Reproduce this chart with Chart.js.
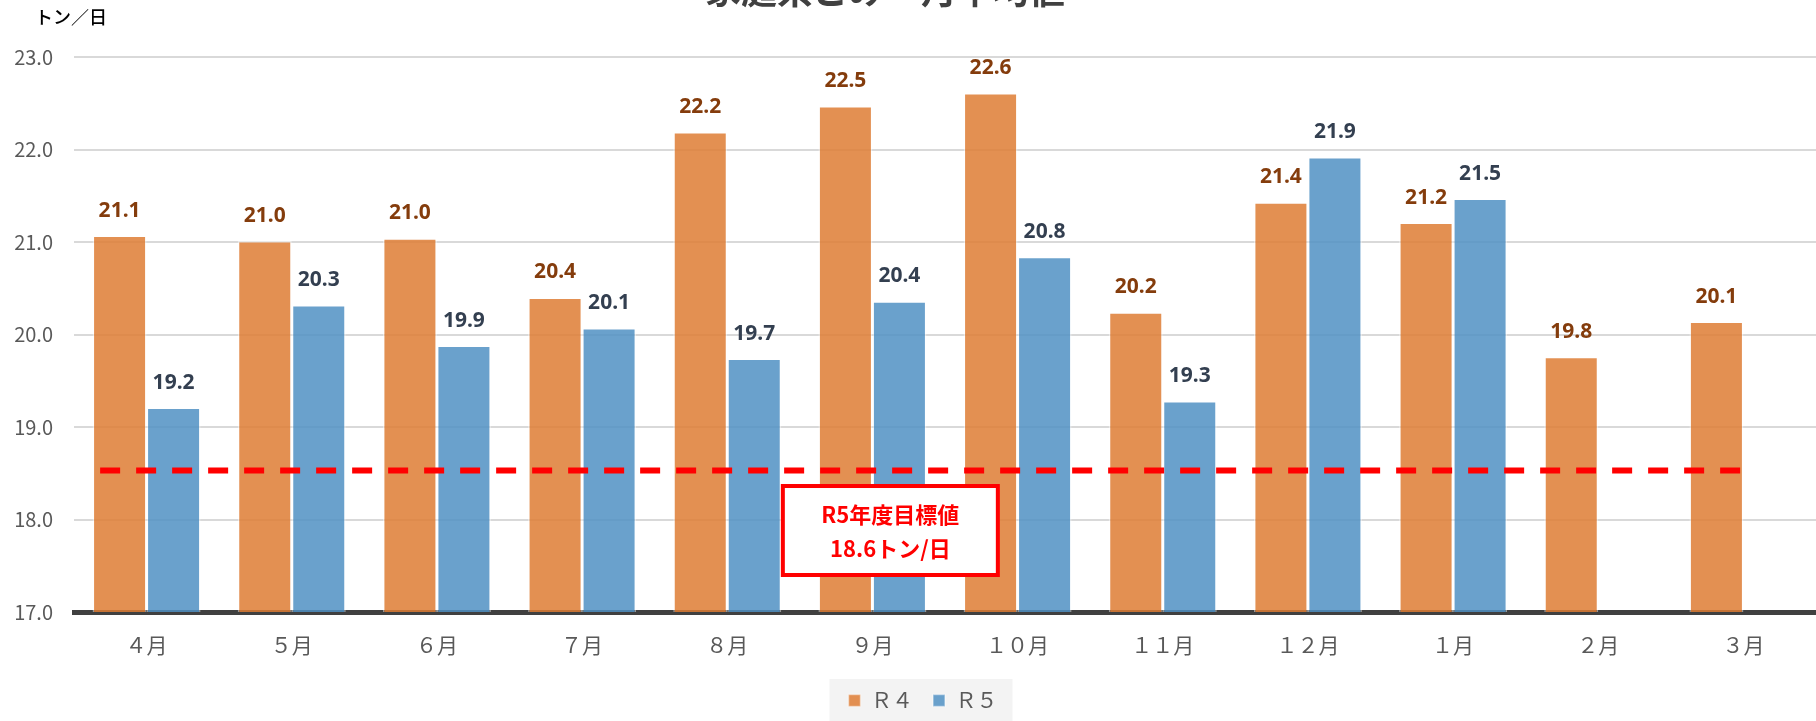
<!DOCTYPE html>
<html lang="ja">
<head>
<meta charset="utf-8">
<title>家庭系ごみ 月平均値</title>
<script src="https://cdn.jsdelivr.net/npm/chart.js@4/dist/chart.umd.min.js"></script>
<style>
  html, body { margin: 0; padding: 0; background: #fff; }
  #wrap { width: 1816px; height: 721px; position: relative; }
</style>
</head>
<body>
<div id="wrap"><canvas id="chart"></canvas></div>
<script>
// 月（年度順）
const months = ['４月', '５月', '６月', '７月', '８月', '９月', '１０月', '１１月', '１２月', '１月', '２月', '３月'];
// R4 実績（トン/日）
const r4Values = [21.07, 21.01, 21.04, 20.40, 22.19, 22.47, 22.61, 20.24, 21.43, 21.21, 19.76, 20.14];
// R5 実績（トン/日）2月・3月は未集計
const r5Values = [19.21, 20.32, 19.88, 20.07, 19.74, 20.36, 20.84, 19.28, 21.92, 21.47, null, null];
// 凡例ラベル
const seriesNames = ['Ｒ４', 'Ｒ５'];
// Y軸の範囲と目盛り
const yMin = 17, yMax = 23, yStep = 1;
// 目標値の破線（描画上の高さと、月インデックスでの始点・終点）
const targetValue = 18.53;
const targetFrom = -0.32, targetTo = 11.05;
const targetText = ['R5年度目標値', '18.6トン/日'];

const FONT = "'Noto Sans CJK JP', 'Noto Sans', sans-serif";
const labelColors = ['#843C0C', '#333F50'];

// 目標値の破線（x軸・y軸のスケールで位置を決める）
const targetLine = {
  id: 'targetLine',
  afterDatasetsDraw(chart) {
    const ctx = chart.ctx;
    const xs = chart.scales.x, ys = chart.scales.y;
    const y = ys.getPixelForValue(targetValue);
    ctx.save();
    ctx.strokeStyle = '#FF0000';
    ctx.lineWidth = 6;
    ctx.setLineDash([20, 16]);
    ctx.beginPath();
    ctx.moveTo(xs.getPixelForValue(targetFrom), y);
    ctx.lineTo(xs.getPixelForValue(targetTo), y);
    ctx.stroke();
    ctx.restore();
  }
};

// 棒の上に値を表示
const valueLabels = {
  id: 'valueLabels',
  afterDatasetsDraw(chart) {
    const ctx = chart.ctx;
    ctx.save();
    ctx.font = `bold 21px 'Noto Sans', sans-serif`;
    ctx.textAlign = 'center';
    ctx.textBaseline = 'middle';
    chart.data.datasets.forEach((ds, di) => {
      const meta = chart.getDatasetMeta(di);
      meta.data.forEach((bar, i) => {
        const v = ds.data[i];
        if (v === null || v === undefined) return;
        ctx.fillStyle = labelColors[di];
        ctx.fillText(v.toFixed(1), bar.x, bar.y - 25);
      });
    });
    ctx.restore();
  }
};

// 目標値の枠付きテキスト
const targetBox = {
  id: 'targetBox',
  afterDatasetsDraw(chart) {
    const ctx = chart.ctx;
    const xs = chart.scales.x, ys = chart.scales.y;
    const left = xs.getPixelForValue(4.383), right = xs.getPixelForValue(5.864);
    const top = ys.getPixelForValue(18.362), bottom = ys.getPixelForValue(17.40);
    ctx.save();
    ctx.fillStyle = '#fff';
    ctx.fillRect(left, top, right - left, bottom - top);
    ctx.strokeStyle = '#FF0000';
    ctx.lineWidth = 4;
    ctx.strokeRect(left, top, right - left, bottom - top);
    ctx.fillStyle = '#FF0000';
    ctx.font = `bold 22px ${FONT}`;
    ctx.textAlign = 'center';
    ctx.textBaseline = 'middle';
    const cx = (left + right) / 2, cy = (top + bottom) / 2;
    ctx.fillText(targetText[0], cx, cy - 16);
    ctx.fillText(targetText[1], cx, cy + 18);
    ctx.restore();
  }
};

// 凡例の位置調整と背景、単位、上部タイトル
const decorations = {
  id: 'decorations',
  afterLayout(chart) {
    const lg = chart.legend;
    if (!lg) return;
    lg.left += 15;
    lg.right += 15;
    (lg.legendHitBoxes || []).forEach(b => { b.left += 15; });
  },
  beforeDraw(chart) {
    const ctx = chart.ctx;
    const boxes = chart.legend && chart.legend.legendHitBoxes;
    if (boxes && boxes.length) {
      const first = boxes[0], last = boxes[boxes.length - 1];
      ctx.save();
      ctx.fillStyle = '#F3F3F3';
      const l = first.left - 19, r = last.left + last.width + 15, t = first.top - 11;
      ctx.fillRect(l, t, r - l, chart.height - t);
      ctx.restore();
    }
  },
  afterDraw(chart) {
    const ctx = chart.ctx;
    ctx.save();
    ctx.fillStyle = '#000';
    ctx.font = `500 18px ${FONT}`;
    ctx.textAlign = 'left';
    ctx.textBaseline = 'middle';
    ctx.fillText('トン／日', 35, 17);
    // 上端で切れているタイトル
    ctx.fillStyle = '#404040';
    ctx.font = `bold 36px ${FONT}`;
    ctx.textAlign = 'center';
    ctx.textBaseline = 'ideographic';
    ctx.fillText('家庭系ごみ　月平均値', 885, 8);
    ctx.restore();
  }
};

const barStyle = {
  borderColor: 'rgba(255,255,255,0.45)',
  borderWidth: 1.5,
  barPercentage: 1,
  categoryPercentage: 0.744,
};

new Chart(document.getElementById('chart'), {
  type: 'bar',
  data: {
    labels: months,
    datasets: [
      { label: seriesNames[0], data: r4Values, backgroundColor: 'rgba(222,124,52,0.85)', ...barStyle },
      { label: seriesNames[1], data: r5Values, backgroundColor: 'rgba(80,145,195,0.85)', ...barStyle },
    ],
  },
  options: {
    responsive: true,
    maintainAspectRatio: false,
    devicePixelRatio: 1,
    animation: false,
    layout: { padding: { top: 57, left: 0, right: 0, bottom: 0 } },
    scales: {
      x: {
        grid: { display: false, drawTicks: false },
        border: { display: true, color: '#404040', width: 5 },
        ticks: { color: '#595959', font: { family: FONT, size: 21 }, padding: 20 },
        afterFit: s => { s.height = 58; },
      },
      y: {
        min: yMin,
        max: yMax,
        grid: {
          color: '#D9D9D9',
          lineWidth: c => (c.tick.value === yMin ? 0 : 2),
          drawTicks: false,
        },
        border: { display: false },
        ticks: {
          stepSize: yStep,
          color: '#595959',
          font: { family: FONT, size: 20 },
          padding: 21,
          callback: v => v.toFixed(1),
        },
        afterFit: s => { s.width = 74; },
      },
    },
    plugins: {
      legend: {
        position: 'bottom',
        labels: {
          color: '#595959',
          font: { family: FONT, size: 21 },
          boxWidth: 12,
          boxHeight: 12,
          padding: 20,
        },
      },
      tooltip: { enabled: false },
      title: { display: false },
    },
  },
  plugins: [decorations, valueLabels, targetLine, targetBox],
});
</script>
</body>
</html>
